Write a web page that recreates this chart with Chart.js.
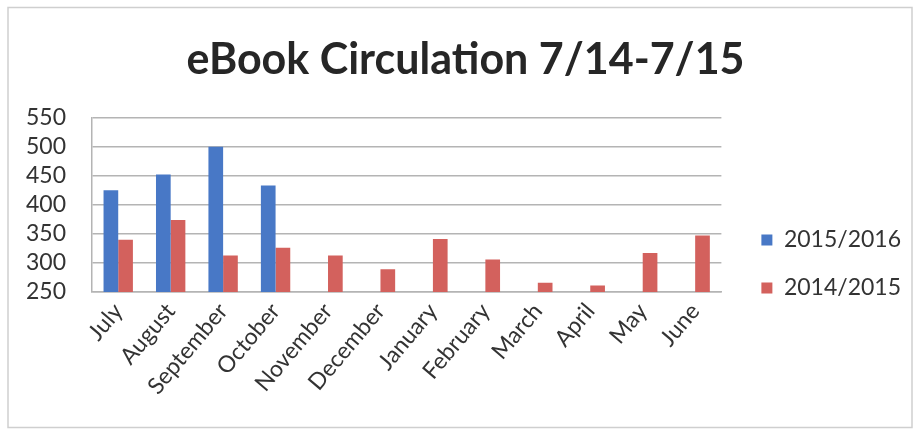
<!DOCTYPE html>
<html>
<head>
<meta charset="utf-8">
<script src="https://cdn.jsdelivr.net/npm/chart.js@4/dist/chart.umd.min.js"></script>
<style>
html,body{margin:0;padding:0;background:#fff;}
#wrap{width:919px;height:431px;position:relative;}
</style>
</head>
<body>
<div id="wrap"><canvas id="c" width="919" height="431"></canvas></div>
<script>
const categories = ["July","August","September","October","November","December","January","February","March","April","May","June"];
const series2015_2016 = [425, 452, 500, 433, null, null, null, null, null, null, null, null];
const series2014_2015 = [340, 374, 313, 326, 313, 289, 341, 306, 266, 261, 317, 347];
const yTicks = [250, 300, 350, 400, 450, 500, 550];
const titleText = "eBook Circulation 7/14-7/15";

const frame = {
  id: 'frame',
  beforeDraw(chart) {
    const ctx = chart.ctx;
    ctx.save();
    ctx.fillStyle = '#fff';
    ctx.fillRect(0, 0, chart.width, chart.height);
    ctx.strokeStyle = '#cfcfcf';
    ctx.lineWidth = 1.5;
    ctx.strokeRect(8, 7.5, 904, 420);
    ctx.restore();
  }
};

new Chart(document.getElementById('c'), {
  type: 'bar',
  data: {
    labels: categories,
    datasets: [
      { label: '2015/2016', data: series2015_2016, backgroundColor: '#4878c6', borderWidth: 0 },
      { label: '2014/2015', data: series2014_2015, backgroundColor: '#d3615d', borderWidth: 0 }
    ]
  },
  options: {
    responsive: false,
    animation: false,
    devicePixelRatio: 1,
    layout: { padding: { left: 20, right: 8, top: 4, bottom: 9 } },
    datasets: { bar: { categoryPercentage: 0.56, barPercentage: 1.0 } },
    plugins: {
      title: {
        display: true,
        text: titleText,
        color: '#262626',
        font: { family: 'Lato', size: 43, weight: 'bold' },
        padding: { top: 30, bottom: 32 }
      },
      legend: {
        position: 'right',
        align: 'center',
        maxWidth: 220,
        title: { display: true, text: ' ', font: { size: 10 }, padding: 45 },
        labels: {
          boxWidth: 11,
          boxHeight: 11,
          padding: 25,
          color: '#333',
          font: { family: 'Lato', size: 23 }
        }
      },
      tooltip: { enabled: false }
    },
    scales: {
      x: {
        grid: { display: false, drawTicks: false },
        border: { display: true, color: '#b4b4b4', width: 1.5 },
        ticks: {
          color: '#333',
          font: { family: 'Lato', size: 23 },
          minRotation: 50, maxRotation: 50,
          autoSkip: false,
          padding: 6
        },
        afterFit(s) { s.height = 130; }
      },
      y: {
        min: 250, max: 550,
        afterBuildTicks(s) { s.ticks = yTicks.map(v => ({ value: v })); },
        grid: { color: '#b4b4b4', lineWidth: 1.5, drawTicks: false },
        border: { display: true, color: '#b4b4b4', width: 1.5 },
        ticks: {
          color: '#333',
          font: { family: 'Lato', size: 23 },
          padding: 26,
          autoSkip: false
        },
        afterFit(s) { s.width = 72; }
      },
      yR: {
        position: 'right',
        display: true,
        grid: { display: false, drawTicks: false },
        border: { display: false },
        ticks: { display: false },
        afterFit(s) { s.width = 15; }
      }
    }
  },
  plugins: [frame]
});
</script>
</body>
</html>
